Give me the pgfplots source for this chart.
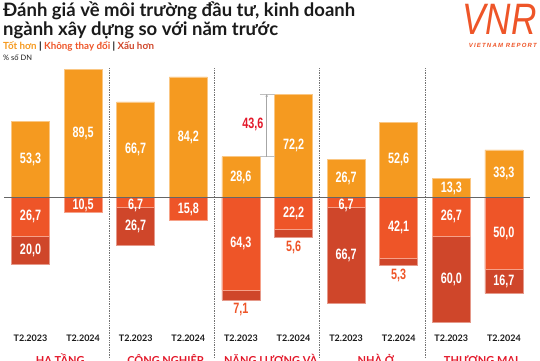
\documentclass[border=0pt]{standalone}
\usepackage{pgfplots}
\pgfplotsset{compat=1.18}
\usetikzlibrary{arrows.meta}
\usepackage{fontspec}
\setmainfont{Lato}
\newfontfamily\numfont{Liberation Sans}
\newfontfamily\logofont{Liberation Sans}
\definecolor{cgood}{HTML}{F59A20}
\definecolor{csame}{HTML}{EE5528}
\definecolor{cbad}{HTML}{CF462A}
\definecolor{cred}{HTML}{E3192B}
\definecolor{ctitle}{HTML}{1A1A1A}
\newcommand{\nl}[1]{\scalebox{0.72}[1]{#1}}
\begin{document}
\begin{tikzpicture}[x=1pt,y=1pt]
\useasboundingbox (0,0) rectangle (540,360);
\clip (0,0) rectangle (540,360);
% title block
\node[anchor=base west, inner sep=0, font=\fontsize{18.5}{20}\selectfont\bfseries, text=ctitle] at (3,343.3) {Đánh giá về môi trường đầu tư, kinh doanh};
\node[anchor=base west, inner sep=0, font=\fontsize{18.5}{20}\selectfont\bfseries, text=ctitle] at (3,325) {ngành xây dựng so với năm trước};
\node[anchor=base west, inner sep=0, font=\fontsize{9.8}{10}\selectfont\bfseries] at (3,310.7) {\textcolor{cgood}{Tốt hơn} | \textcolor{csame}{Không thay đổi} | \textcolor{cbad}{Xấu hơn}};
\node[anchor=base west, inner sep=0, font=\fontsize{7.5}{8}\selectfont, text=ctitle] at (3,299.3) {\% số DN};
% logo
\node[anchor=base east, inner sep=0, text=csame, font=\logofont\itshape\fontsize{44}{44}\selectfont] at (537,326) {\scalebox{0.8}[1]{VNR}};
\node[anchor=base east, inner sep=0, text=csame, font=\logofont\bfseries\itshape\fontsize{6}{6}\selectfont\addfontfeatures{LetterSpace=20}] at (537,313) {VIETNAM REPORT};
\begin{axis}[at={(8,3.15)}, anchor=south west, scale only axis,
  width=526pt, height=301.35pt,
  xmin=-0.5, xmax=9.5, ymin=-110, ymax=100, clip=false,
  axis line style={draw=none}, tick style={draw=none}, ytick=\empty,
  xtick={0,...,9},
  xticklabels={T2.2023,T2.2024,T2.2023,T2.2024,T2.2023,T2.2024,T2.2023,T2.2024,T2.2023,T2.2024},
  xticklabel style={font=\fontsize{9}{10}\selectfont\bfseries, text=ctitle, anchor=base, yshift=13.85pt},
  bar width=38pt]
% better (positive)
\addplot[ybar, bar shift=0pt, fill=cgood, draw=white!45!cgood, line width=0.6pt]
  coordinates {(0,53.3)(1,89.5)(2,66.7)(3,84.2)(4,28.6)(5,72.2)(6,26.7)(7,52.6)(8,13.3)(9,33.3)};
% worse: full negative extent (no change + worse)
\addplot[ybar, bar shift=0pt, fill=cbad, draw=white!45!cbad, line width=0.6pt]
  coordinates {(0,-46.7)(1,-10.5)(2,-33.4)(3,-15.8)(4,-71.4)(5,-27.8)(6,-73.4)(7,-47.4)(8,-86.7)(9,-66.7)};
% no change
\addplot[ybar, bar shift=0pt, fill=csame, draw=white!45!csame, line width=0.6pt]
  coordinates {(0,-26.7)(1,-10.5)(2,-6.7)(3,-15.8)(4,-64.3)(5,-22.2)(6,-6.7)(7,-42.1)(8,-26.7)(9,-50.0)};
% white labels inside bars
\addplot[draw=none, mark=none, nodes near coords={\nl{\pgfplotspointmeta}}, point meta=explicit symbolic,
  every node near coord/.append style={anchor=center, text=white, inner sep=0pt, font=\numfont\bfseries\fontsize{15}{15}\selectfont}]
  coordinates {(0,26.65)[53{,}3] (1,44.75)[89{,}5] (2,33.35)[66{,}7] (3,42.1)[84{,}2] (4,14.3)[28{,}6]
    (5,36.1)[72{,}2] (6,13.35)[26{,}7] (7,26.3)[52{,}6] (8,6.65)[13{,}3] (9,16.65)[33{,}3]
    (0,-13.35)[26{,}7] (1,-5.25)[10{,}5] (2,-5.2)[6{,}7] (3,-7.9)[15{,}8] (4,-32.15)[64{,}3]
    (5,-11.1)[22{,}2] (6,-5.2)[6{,}7] (7,-21.05)[42{,}1] (8,-13.35)[26{,}7] (9,-25)[50{,}0]
    (0,-36.7)[20{,}0] (2,-20.05)[26{,}7] (6,-40.05)[66{,}7] (8,-56.7)[60{,}0] (9,-58.35)[16{,}7]};
% labels below bars
\addplot[draw=none, mark=none, nodes near coords={\nl{\pgfplotspointmeta}}, point meta=explicit symbolic,
  every node near coord/.append style={anchor=center, text=csame, inner sep=0pt, font=\numfont\bfseries\fontsize{15}{15}\selectfont}]
  coordinates {(4,-78.2)[7{,}1] (5,-34.6)[5{,}6] (7,-54.2)[5{,}3]};
% dividers
\foreach \xx in {1.5,3.5,5.5,7.5}{
  \edef\tmp{\noexpand\draw[black!55, line width=0.8pt, dash pattern=on 0.8pt off 0.9pt] (axis cs:\xx,90.2) -- (axis cs:\xx,-112);}
  \tmp
}
% baseline
\draw[black!60, line width=0.8pt] (axis cs:-0.5,0) -- (axis cs:9.5,0);
% difference annotation
\draw[black!25, line width=0.6pt] (axis cs:4.36,72.2) -- (axis cs:4.64,72.2);
\draw[black!25, line width=0.6pt] (axis cs:4.36,28.6) -- (axis cs:4.64,28.6);
\draw[black!35, line width=0.6pt, -{Stealth[length=3pt,width=2.5pt]}] (axis cs:4.49,28.6) -- (axis cs:4.49,72.2);
\node[anchor=east, inner sep=0pt, text=cred, font=\numfont\bfseries\fontsize{15}{15}\selectfont] at (axis cs:4.43,51.0) {\nl{43,6}};
\end{axis}
% group names (cut by the bottom edge)
\foreach \gx/\gname in {60.3/HẠ TẦNG,165.5/CÔNG NGHIỆP,270.7/NĂNG LƯỢNG VÀ,375.9/NHÀ Ở,481.1/THƯƠNG MẠI}{
  \node[anchor=base, inner sep=0, text=cred, font=\fontsize{11}{12}\selectfont\bfseries] at (\gx,-4) {\gname};
}
\end{tikzpicture}
\end{document}
